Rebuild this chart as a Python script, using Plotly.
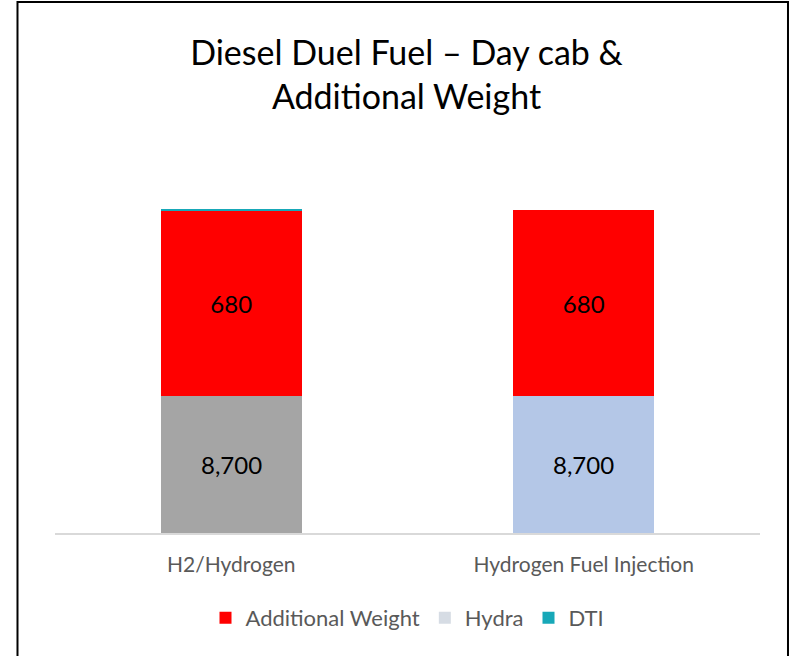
import plotly.graph_objects as go

categories = ["H2/Hydrogen", "Hydrogen Fuel Injection"]
base_values = [8700, 8700]
additional_weight = [680, 680]
hydra = [0, 0]
dti = [4, 0]
base_colors = ["#a5a5a5", "#b4c7e7"]
y_range = [8200, 9600]

FONT = "Lato, 'Open Sans', sans-serif"

fig = go.Figure()
fig.add_trace(go.Bar(
    x=categories, y=base_values, name="Base", showlegend=False,
    marker=dict(color=base_colors, line=dict(width=0)),
))
fig.add_trace(go.Bar(
    x=categories, y=additional_weight, name="Additional Weight",
    marker=dict(color="#ff0000", line=dict(width=0)),
    text=[f"{v:,}" for v in additional_weight], textposition="inside",
    insidetextanchor="middle", textangle=0,
    textfont=dict(color="black", size=24, family=FONT),
))
fig.add_trace(go.Bar(
    x=categories, y=hydra, name="Hydra",
    marker=dict(color="#d6dce4", line=dict(width=0)),
))
fig.add_trace(go.Bar(
    x=categories, y=dti, name="DTI",
    marker=dict(color="#17a8b8", line=dict(width=0)),
))

# labels for the base segment, centred on its visible part
annotations = []
for c, v in zip(categories, base_values):
    annotations.append(dict(
        x=c, y=(max(y_range[0], 0) + v) / 2, xref="x", yref="y",
        text=f"{v:,}", showarrow=False,
        font=dict(color="black", size=24, family=FONT),
    ))

fig.update_layout(
    barmode="stack",
    bargap=0.6,
    width=793, height=656,
    margin=dict(l=55, r=33, t=150, b=123, autoexpand=False),
    paper_bgcolor="white", plot_bgcolor="white",
    font=dict(family=FONT, color="#595959"),
    title=dict(
        text="Diesel Duel Fuel – Day cab &<br>Additional Weight",
        x=406.5 / 793, xanchor="center", y=1 - 65 / 656, yanchor="middle",
        font=dict(size=34, color="black", family=FONT),
    ),
    xaxis=dict(
        showline=True, linecolor="#d9d9d9", linewidth=1.5,
        tickfont=dict(size=21, color="#595959", family=FONT),
        ticks="", showgrid=False, ticklabelstandoff=12,
    ),
    yaxis=dict(range=y_range, visible=False, showgrid=False),
    legend=dict(
        orientation="h", x=0.5, xanchor="center", y=-0.222, yanchor="middle",
        font=dict(size=22, color="#595959", family=FONT),
        traceorder="normal", itemwidth=30,
    ),
    annotations=annotations,
    shapes=[dict(
        type="rect", xref="paper", yref="paper",
        x0=-0.0532, x1=1.0397, y0=-0.34, y1=1.3864,
        line=dict(color="black", width=2), fillcolor="rgba(0,0,0,0)",
    )],
)

fig.write_html(
    "out.html",
    config={"displayModeBar": False},
    post_script="document.body.style.margin='0px';",
)
